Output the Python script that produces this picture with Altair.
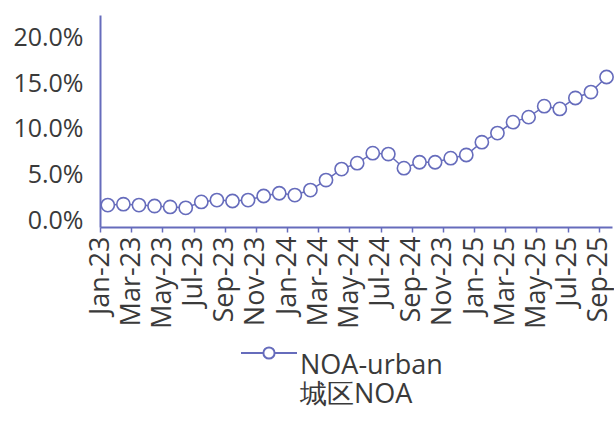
import altair as alt
import pandas as pd

# Monthly NOA-urban share, Jan-23 through Sep-25
months = [
    "2023-01", "2023-02", "2023-03", "2023-04", "2023-05", "2023-06",
    "2023-07", "2023-08", "2023-09", "2023-10", "2023-11", "2023-12",
    "2024-01", "2024-02", "2024-03", "2024-04", "2024-05", "2024-06",
    "2024-07", "2024-08", "2024-09", "2024-10", "2024-11", "2024-12",
    "2025-01", "2025-02", "2025-03", "2025-04", "2025-05", "2025-06",
    "2025-07", "2025-08", "2025-09",
]
noa_urban = [
    0.0165, 0.0175, 0.0165, 0.0155, 0.0145, 0.0135,
    0.0200, 0.0220, 0.0210, 0.0220, 0.0265, 0.0295,
    0.0275, 0.0330, 0.0440, 0.0560, 0.0625, 0.0735,
    0.0725, 0.0570, 0.0635, 0.0635, 0.0680, 0.0715,
    0.0855, 0.0955, 0.1075, 0.1130, 0.1250, 0.1220,
    0.1340, 0.1405, 0.1570,
]
# Axis labels, one every two months
tick_labels = [
    "Jan-23", "Mar-23", "May-23", "Jul-23", "Sep-23", "Nov-23",
    "Jan-24", "Mar-24", "May-24", "Jul-24", "Sep-24", "Nov-23",
    "Jan-25", "Mar-25", "May-25", "Jul-25", "Sep-25",
]
y_ticks = [0.0, 0.05, 0.10, 0.15, 0.20]
series_name = "NOA-urban"

COLOR = "#666cbc"
TEXT = "#3a3a3a"
FONT = "Open Sans"

df = pd.DataFrame({
    "i": list(range(len(months))),
    "month": months,
    "value": noa_urban,
    "series": series_name,
})

label_array = "[" + ",".join(f"'{t}'" for t in tick_labels) + "]"
tick_positions = [2 * k - 0.5 for k in range(len(tick_labels))]

x = alt.X(
    "i:Q",
    scale=alt.Scale(domain=[-0.5, 32.35], nice=False, zero=False),
    axis=alt.Axis(
        title=None,
        values=tick_positions,
        labelExpr=f"{label_array}[round((datum.value + 0.5) / 2)]",
        labelAngle=-90,
        labelFontSize=27,
        labelFont=FONT,
        labelColor=TEXT,
        labelPadding=4,
        labelOverlap=False,
        labelFlush=False,
        domainColor=COLOR,
        domainWidth=2,
        tickColor=COLOR,
        tickSize=5,
        tickWidth=1.5,
        grid=False,
    ),
)
y = alt.Y(
    "value:Q",
    scale=alt.Scale(domain=[-0.0075, 0.225], nice=False, zero=False),
    axis=alt.Axis(
        title=None,
        values=y_ticks,
        format=".1%",
        labelFontSize=25,
        labelFont=FONT,
        labelColor=TEXT,
        labelPadding=17,
        ticks=False,
        domainColor=COLOR,
        domainWidth=2,
        grid=False,
    ),
)

# legend key: a short line with an open circle in the middle
legend_symbol = (
    "M-1,0H-0.2 M0.2,0H1 "
    "M0.2,0A0.2,0.2 0 1,1 -0.2,0A0.2,0.2 0 1,1 0.2,0Z"
)
legend = alt.Legend(
    title=None,
    orient="none",
    legendX=140,
    legendY=309,
    symbolType=legend_symbol,
    symbolSize=3136,
    symbolStrokeWidth=2,
    symbolStrokeColor=COLOR,
    symbolFillColor="white",
    labelExpr="['NOA-urban', '城区NOA']",
    labelFontSize=27,
    labelFont=FONT,
    labelColor=TEXT,
    labelOffset=2,
    labelLimit=400,
    labelBaseline="top",
)
color = alt.Color(
    "series:N",
    scale=alt.Scale(domain=[series_name], range=[COLOR]),
    legend=legend,
)

line = alt.Chart(df).mark_line(strokeWidth=1.5).encode(x=x, y=y, color=color)
points = alt.Chart(df).mark_point(
    shape="circle", filled=False, fill="white", fillOpacity=1,
    size=175, strokeWidth=1.6, opacity=1,
).encode(x=x, y=y, color=color)

chart = (
    alt.layer(line, points)
    .properties(
        width=512,
        height=212,
        autosize=alt.AutoSizeParams(type="none"),
        padding={"left": 100, "top": 15, "right": 2, "bottom": 196},
        background="white",
    )
    .configure_view(stroke=None)
)

chart.save("out.html", embed_options={"renderer": "svg", "actions": False})
